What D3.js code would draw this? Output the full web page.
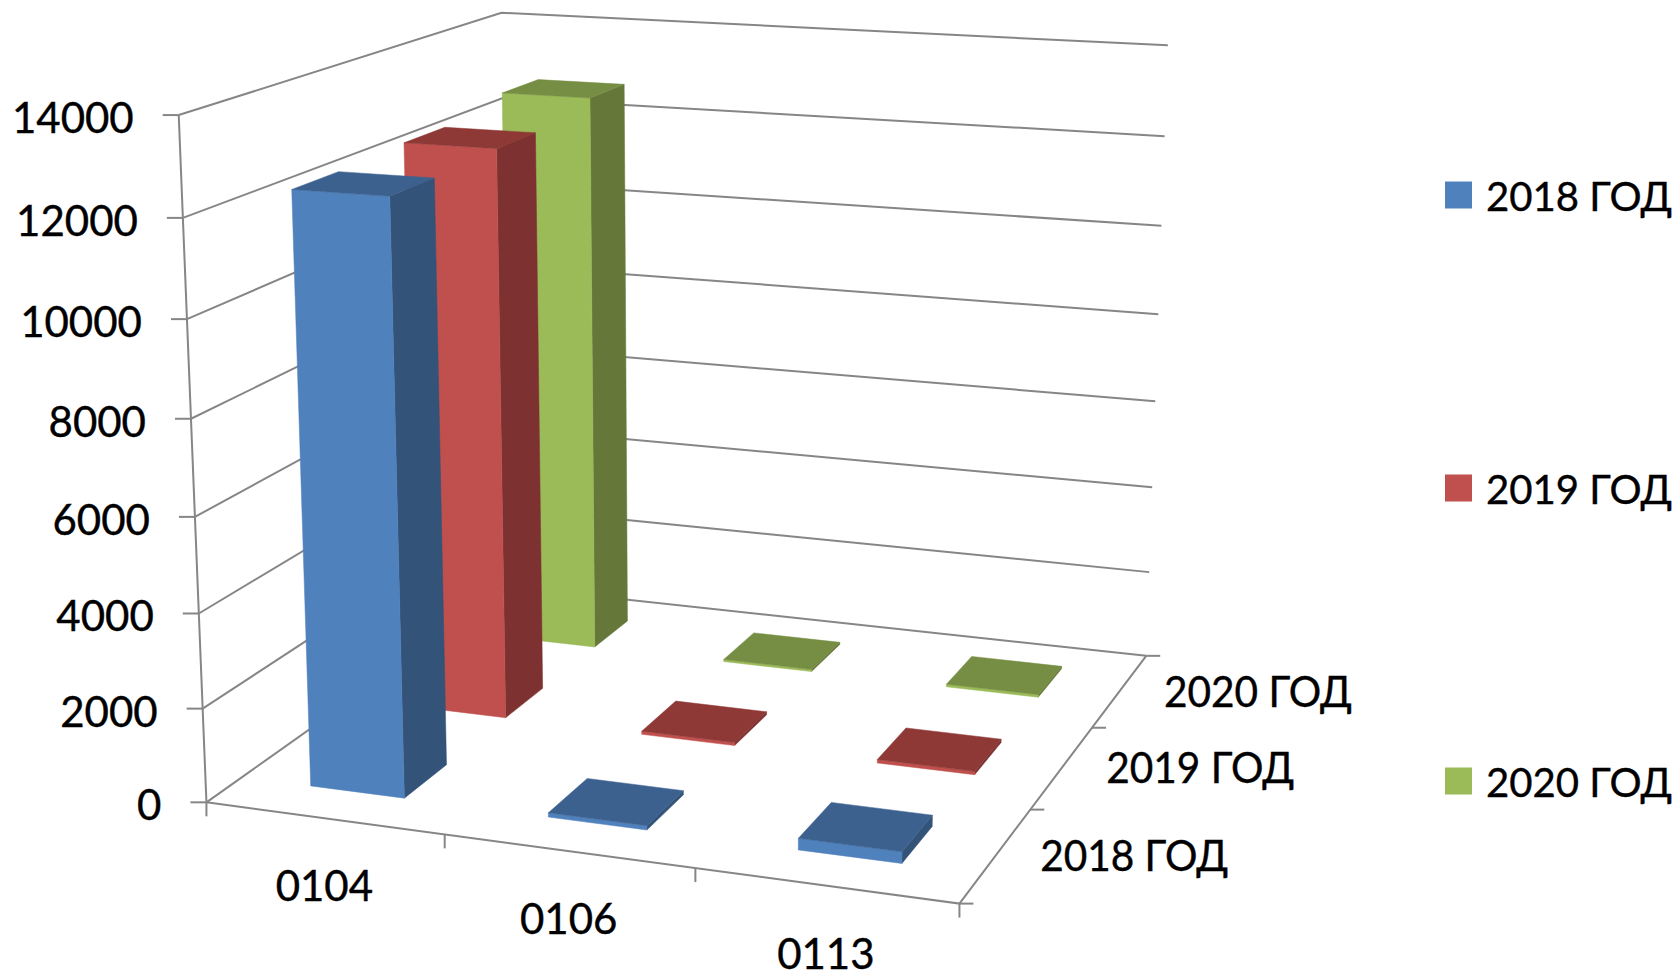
<!DOCTYPE html>
<html>
<head>
<meta charset="utf-8">
<script src="https://cdn.jsdelivr.net/npm/d3@7"></script>
<style>
    html, body { margin: 0; background: #fff; }
    text { font-family: Lato, "Open Sans", sans-serif; font-size: 42px; fill: #000; stroke: #000; stroke-width: 0.4; }
</style>
</head>
<body>
<div id="chart"></div>
<script>
// данные
const categories = ['0104', '0106', '0113'];
const seriesNames = ['2018 ГОД', '2019 ГОД', '2020 ГОД'];
const values2018 = [12380, 90, 240];
const values2019 = [12460, 70, 75];
const values2020 = [12740, 50, 60];
const yTicks = [0, 2000, 4000, 6000, 8000, 10000, 12000, 14000];

const seriesValues = [values2018, values2019, values2020];
const colors = [
    { front: '#4f81bd', side: '#335379', top: '#3c618f' },
    { front: '#c0504d', side: '#7d3231', top: '#8f3937' },
    { front: '#9bbb59', side: '#65783a', top: '#768e43' }
];

const width = 1679;
const height = 971;

// опорные точки куба: [u, v, t, x, y], u - категории, v - глубина, t - высота
const frame = [
    [0, 0, 0, 205, 802],
    [1, 0, 0, 960, 903],
    [0, 1, 0, 513, 588],
    [1, 1, 0, 1145, 655],
    [0, 0, 1, 179.5, 116],
    [0, 1, 1, 499, 12],
    [1, 1, 1, 1168, 45],
    [1 / 3, 0, 0, 443.5, 835],
    [2 / 3, 0, 0, 695, 870],
    [1, 1 / 3, 0, 1031, 809],
    [1, 2 / 3, 0, 1092, 727],
    [0, 0, 1 / 7, 202, 708],
    [0, 0, 2 / 7, 199, 613],
    [0, 0, 3 / 7, 195, 516],
    [0, 0, 4 / 7, 191, 418.5],
    [0, 0, 5 / 7, 187.5, 319.5],
    [0, 0, 6 / 7, 184, 218],
    [1, 1, 1 / 7, 1149, 572],
    [1, 1, 2 / 7, 1152, 488],
    [1, 1, 3 / 7, 1155.5, 402],
    [1, 1, 4 / 7, 1158, 314.5],
    [1, 1, 5 / 7, 1162, 226],
    [1, 1, 6 / 7, 1165, 136]
];

// проекция: x = (A·p) / (w·p), наименьшие квадраты по опорным точкам
function solve (M, b) {
    const n = b.length;
    const a = M.map((row, i) => row.concat(b[i]));
    for (let i = 0; i < n; i++) {
        let p = i;
        for (let r = i + 1; r < n; r++) if (Math.abs(a[r][i]) > Math.abs(a[p][i])) p = r;
        [a[i], a[p]] = [a[p], a[i]];
        for (let r = 0; r < n; r++) {
            if (r === i) continue;
            const f = a[r][i] / a[i][i];
            for (let c = i; c <= n; c++) a[r][c] -= f * a[i][c];
        }
    }
    return a.map((row, i) => row[n] / row[i]);
}

function fitCamera (pts) {
    const rows = [];
    const rhs = [];
    pts.forEach(([u, v, t, x, y]) => {
        const sx = x / 1000;
        const sy = y / 1000;
        rows.push([u, v, t, 1, 0, 0, 0, 0, -sx * u, -sx * v, -sx * t]);
        rhs.push(sx);
        rows.push([0, 0, 0, 0, u, v, t, 1, -sy * u, -sy * v, -sy * t]);
        rhs.push(sy);
    });
    const N = d3.range(11).map(i => d3.range(11).map(j => d3.sum(rows, r => r[i] * r[j])));
    const y = d3.range(11).map(i => d3.sum(rows, (r, k) => r[i] * rhs[k]));
    return solve(N, y);
}

const cam = fitCamera(frame);

function project (u, v, t) {
    const w = cam[8] * u + cam[9] * v + cam[10] * t + 1;
    return [
        1000 * (cam[0] * u + cam[1] * v + cam[2] * t + cam[3]) / w,
        1000 * (cam[4] * u + cam[5] * v + cam[6] * t + cam[7]) / w
    ];
}

const xScale = d3.scaleBand().domain(categories).range([0, 1]).paddingInner(0.6).paddingOuter(0.3).align(0.495);
const zScale = d3.scaleBand().domain(seriesNames).range([0, 1]).paddingInner(0.6).paddingOuter(0.3);
const yScale = d3.scaleLinear().domain([0, 14000]).range([0, 1]);
const legendY = d3.scalePoint().domain(seriesNames).range([195, 781]);

const line = d3.line();

const svg = d3.select('#chart').append('svg')
    .attr('width', width)
    .attr('height', height)
    .style('display', 'block');

// стенки и сетка
const grid = svg.append('g')
    .attr('fill', 'none')
    .attr('stroke', '#868686')
    .attr('stroke-width', 2);

yTicks.forEach((tick) => {
    const t = yScale(tick);
    const p = project(0, 0, t);
    grid.append('path').attr('d', line([p, project(0, 1, t), project(1, 1, t)]));
    grid.append('path').attr('d', line([[p[0] - 16, p[1]], p]));
    svg.append('text')
        .attr('x', p[0] - 45)
        .attr('y', p[1] + 2)
        .attr('text-anchor', 'end')
        .attr('dominant-baseline', 'central')
        .text(tick);
});

// передние оси
grid.append('path').attr('d', line([project(0, 0, 0), project(0, 0, 1)]));
grid.append('path').attr('d', line([project(0, 0, 0), project(1, 0, 0), project(1, 1, 0)]));

d3.range(0, 4).forEach((i) => {
    const p = project(i / 3, 0, 0);
    grid.append('path').attr('d', line([p, [p[0], p[1] + 14]]));
    const q = project(1, i / 3, 0);
    grid.append('path').attr('d', line([q, [q[0] + 14, q[1]]]));
});

categories.forEach((name) => {
    const p = project(xScale(name) + xScale.bandwidth() / 2, 0, 0);
    svg.append('text')
        .attr('x', p[0] + 1)
        .attr('y', p[1] + 67)
        .attr('text-anchor', 'middle')
        .attr('dominant-baseline', 'central')
        .text(name);
});

seriesNames.forEach((name) => {
    const p = project(1, zScale(name) + zScale.bandwidth() / 2, 0);
    svg.append('text')
        .attr('x', p[0] + 44)
        .attr('y', p[1])
        .attr('dominant-baseline', 'central')
        .attr('textLength', 188)
        .attr('lengthAdjust', 'spacingAndGlyphs')
        .text(name);
});

// столбцы, от дальнего ряда к ближнему
const bars = svg.append('g');

function renderBar (name, s, value) {
    const u0 = xScale(name);
    const u1 = u0 + xScale.bandwidth();
    const v0 = zScale(seriesNames[s]);
    const v1 = v0 + zScale.bandwidth();
    const t = yScale(value);
    const c = colors[s];
    const face = (pts, fill) => bars.append('path')
        .attr('d', line(pts.map(p => project(p[0], p[1], p[2]))) + 'Z')
        .attr('fill', fill)
        .attr('stroke', fill)
        .attr('stroke-width', 0.5);

    face([[u1, v0, 0], [u1, v1, 0], [u1, v1, t], [u1, v0, t]], c.side);
    face([[u0, v0, 0], [u1, v0, 0], [u1, v0, t], [u0, v0, t]], c.front);
    face([[u0, v0, t], [u1, v0, t], [u1, v1, t], [u0, v1, t]], c.top);
}

d3.range(seriesNames.length - 1, -1, -1).forEach((s) => {
    categories.forEach((name, i) => renderBar(name, s, seriesValues[s][i]));
});

// легенда
seriesNames.forEach((name, s) => {
    const y = legendY(name);
    svg.append('rect')
        .attr('x', 1445)
        .attr('y', y - 13.5)
        .attr('width', 27)
        .attr('height', 27)
        .attr('fill', colors[s].front);
    svg.append('text')
        .attr('x', 1486)
        .attr('y', y)
        .attr('dominant-baseline', 'central')
        .attr('textLength', 186)
        .attr('lengthAdjust', 'spacingAndGlyphs')
        .style('font-size', '41px')
        .text(name);
});
</script>
</body>
</html>
